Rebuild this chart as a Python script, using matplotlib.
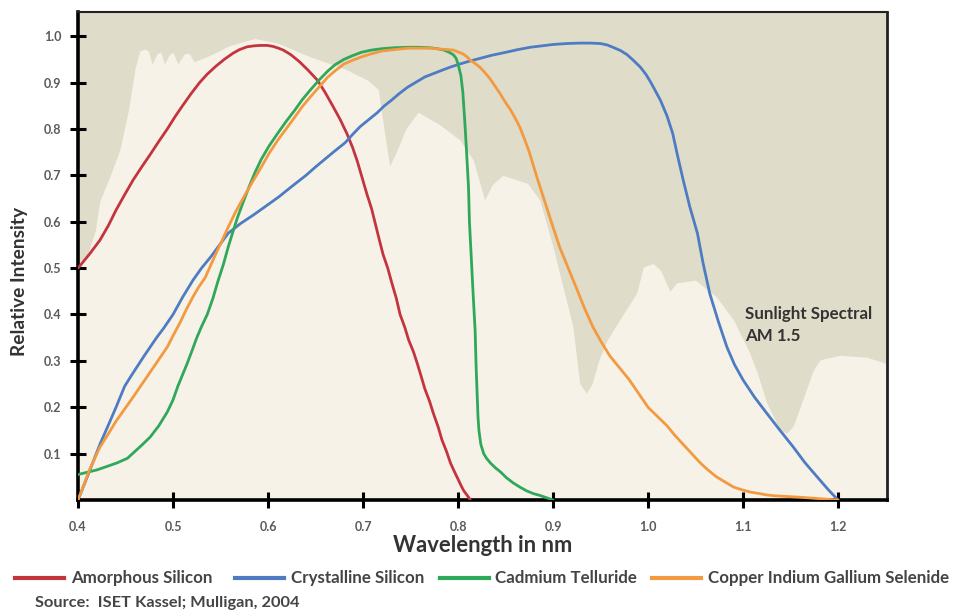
"""Spectral response of four solar-cell technologies against the AM 1.5 sunlight spectrum."""

import matplotlib

matplotlib.use("Agg")
import matplotlib.lines as mlines
import matplotlib.pyplot as plt

plt.rcParams["font.family"] = ["Lato", "DejaVu Sans"]

# Sunlight spectrum AM 1.5 (relative)
SUN_X = [0.400, 0.410, 0.418, 0.423, 0.434, 0.444, 0.453, 0.460, 0.465, 0.470, 0.474, 0.478,
         0.483, 0.487, 0.491, 0.496, 0.500, 0.505, 0.512, 0.517, 0.522, 0.535, 0.560, 0.586,
         0.610, 0.645, 0.680, 0.705, 0.716, 0.722, 0.728, 0.735, 0.745, 0.758, 0.780, 0.802,
         0.816, 0.828, 0.836, 0.847, 0.873, 0.886, 0.900, 0.921, 0.928, 0.935, 0.941, 0.948,
         0.957, 0.970, 0.988, 0.995, 1.005, 1.013, 1.023, 1.030, 1.050, 1.072, 1.090, 1.107,
         1.115, 1.125, 1.139, 1.146, 1.153, 1.160, 1.174, 1.181, 1.202, 1.230, 1.250]
SUN_Y = [0.51, 0.53, 0.58, 0.645, 0.70, 0.755, 0.84, 0.93, 0.968, 0.972, 0.968, 0.94,
         0.962, 0.966, 0.94, 0.96, 0.965, 0.94, 0.962, 0.963, 0.945, 0.955, 0.98, 0.995,
         0.985, 0.955, 0.93, 0.905, 0.885, 0.80, 0.72, 0.75, 0.80, 0.836, 0.81, 0.776,
         0.733, 0.647, 0.68, 0.70, 0.683, 0.647, 0.545, 0.373, 0.252, 0.23, 0.25, 0.30,
         0.345, 0.388, 0.446, 0.502, 0.51, 0.496, 0.45, 0.468, 0.474, 0.438, 0.388, 0.317,
         0.274, 0.209, 0.151, 0.144, 0.16, 0.20, 0.28, 0.302, 0.312, 0.308, 0.295]

# Amorphous silicon
ASI_X = [0.400, 0.412, 0.423, 0.432, 0.440, 0.449, 0.458, 0.467, 0.476, 0.485, 0.494, 0.502,
         0.510, 0.519, 0.528, 0.536, 0.545, 0.554, 0.563, 0.570, 0.578, 0.585, 0.592, 0.599,
         0.605, 0.611, 0.616, 0.624, 0.633, 0.642, 0.652, 0.660, 0.668, 0.676, 0.683, 0.689,
         0.694, 0.699, 0.704, 0.709, 0.713, 0.717, 0.721, 0.726, 0.730, 0.735, 0.739, 0.744,
         0.748, 0.753, 0.757, 0.761, 0.765, 0.770, 0.774, 0.779, 0.783, 0.788, 0.792, 0.796,
         0.800, 0.803, 0.806, 0.810, 0.813]
ASI_Y = [0.50, 0.53, 0.56, 0.592, 0.625, 0.658, 0.69, 0.718, 0.745, 0.773, 0.80, 0.826,
         0.85, 0.876, 0.90, 0.918, 0.935, 0.95, 0.963, 0.971, 0.977, 0.979, 0.98, 0.98,
         0.978, 0.974, 0.97, 0.96, 0.945, 0.927, 0.905, 0.879, 0.85, 0.82, 0.79, 0.76,
         0.73, 0.695, 0.66, 0.628, 0.595, 0.562, 0.53, 0.50, 0.47, 0.435, 0.40, 0.372,
         0.345, 0.32, 0.295, 0.268, 0.24, 0.213, 0.187, 0.158, 0.13, 0.104, 0.08, 0.062,
         0.045, 0.032, 0.02, 0.009, 0.0]

# Crystalline silicon
CSI_X = [0.400, 0.412, 0.423, 0.432, 0.440, 0.449, 0.456, 0.463, 0.470, 0.476, 0.483, 0.490,
         0.500, 0.510, 0.521, 0.530, 0.540, 0.549, 0.558, 0.571, 0.585, 0.598, 0.611, 0.625,
         0.640, 0.650, 0.660, 0.670, 0.681, 0.689, 0.697, 0.706, 0.715, 0.722, 0.730, 0.738,
         0.747, 0.756, 0.765, 0.775, 0.785, 0.793, 0.802, 0.812, 0.823, 0.836, 0.850, 0.863,
         0.876, 0.888, 0.900, 0.914, 0.928, 0.940, 0.950, 0.957, 0.963, 0.971, 0.978, 0.985,
         0.992, 0.998, 1.003, 1.008, 1.013, 1.020, 1.026, 1.031, 1.037, 1.044, 1.052, 1.058,
         1.065, 1.074, 1.083, 1.091, 1.100, 1.112, 1.125, 1.139, 1.153, 1.165, 1.178, 1.189,
         1.200]
CSI_Y = [0.0, 0.062, 0.12, 0.162, 0.20, 0.245, 0.268, 0.29, 0.312, 0.33, 0.351, 0.37,
         0.40, 0.437, 0.474, 0.50, 0.525, 0.55, 0.575, 0.596, 0.615, 0.634, 0.653, 0.676,
         0.70, 0.718, 0.735, 0.752, 0.77, 0.788, 0.805, 0.82, 0.835, 0.849, 0.862, 0.876,
         0.89, 0.901, 0.912, 0.92, 0.928, 0.934, 0.94, 0.946, 0.952, 0.959, 0.965, 0.971,
         0.976, 0.979, 0.982, 0.984, 0.985, 0.985, 0.984, 0.981, 0.976, 0.969, 0.96, 0.947,
         0.933, 0.917, 0.90, 0.881, 0.862, 0.828, 0.79, 0.743, 0.69, 0.632, 0.575, 0.51,
         0.445, 0.385, 0.33, 0.292, 0.259, 0.222, 0.187, 0.15, 0.114, 0.081, 0.05, 0.024,
         0.0]

# Cadmium telluride
CDTE_X = [0.400, 0.420, 0.441, 0.452, 0.460, 0.468, 0.476, 0.485, 0.494, 0.500, 0.505, 0.510,
          0.515, 0.520, 0.525, 0.530, 0.536, 0.542, 0.547, 0.553, 0.558, 0.563, 0.568, 0.574,
          0.580, 0.586, 0.593, 0.601, 0.610, 0.619, 0.628, 0.636, 0.645, 0.654, 0.663, 0.671,
          0.680, 0.689, 0.698, 0.709, 0.720, 0.733, 0.747, 0.758, 0.770, 0.778, 0.785, 0.790,
          0.795, 0.798, 0.800, 0.803, 0.805, 0.807, 0.809, 0.811, 0.812, 0.814, 0.816, 0.818,
          0.819, 0.820, 0.821, 0.822, 0.824, 0.827, 0.830, 0.834, 0.839, 0.845, 0.851, 0.858,
          0.865, 0.872, 0.879, 0.886, 0.893, 0.900]
CDTE_Y = [0.055, 0.065, 0.08, 0.09, 0.105, 0.12, 0.136, 0.16, 0.19, 0.216, 0.245, 0.27,
          0.295, 0.322, 0.35, 0.374, 0.40, 0.435, 0.47, 0.508, 0.545, 0.578, 0.61, 0.643,
          0.675, 0.705, 0.735, 0.763, 0.79, 0.816, 0.84, 0.863, 0.885, 0.906, 0.925, 0.939,
          0.95, 0.958, 0.965, 0.97, 0.973, 0.975, 0.976, 0.976, 0.975, 0.973, 0.97, 0.966,
          0.96, 0.952, 0.94, 0.915, 0.88, 0.82, 0.75, 0.675, 0.60, 0.52, 0.44, 0.365,
          0.29, 0.235, 0.18, 0.15, 0.12, 0.10, 0.09, 0.08, 0.07, 0.06, 0.048, 0.037,
          0.028, 0.02, 0.014, 0.01, 0.005, 0.0]

# Copper indium gallium selenide
CIGS_X = [0.400, 0.412, 0.423, 0.432, 0.440, 0.449, 0.458, 0.467, 0.476, 0.485, 0.494, 0.501,
          0.508, 0.514, 0.521, 0.527, 0.534, 0.540, 0.546, 0.552, 0.558, 0.566, 0.575, 0.584,
          0.593, 0.601, 0.610, 0.619, 0.628, 0.636, 0.645, 0.654, 0.663, 0.671, 0.680, 0.689,
          0.698, 0.709, 0.720, 0.733, 0.747, 0.758, 0.770, 0.782, 0.795, 0.800, 0.805, 0.809,
          0.813, 0.818, 0.823, 0.828, 0.833, 0.838, 0.844, 0.849, 0.855, 0.860, 0.865, 0.870,
          0.875, 0.879, 0.883, 0.889, 0.895, 0.901, 0.907, 0.916, 0.925, 0.933, 0.942, 0.951,
          0.960, 0.970, 0.980, 0.990, 1.000, 1.010, 1.020, 1.028, 1.037, 1.046, 1.055, 1.063,
          1.072, 1.081, 1.090, 1.099, 1.108, 1.117, 1.125, 1.134, 1.143, 1.160, 1.180, 1.200]
CIGS_Y = [0.0, 0.065, 0.114, 0.143, 0.17, 0.196, 0.222, 0.249, 0.276, 0.303, 0.33, 0.358,
          0.385, 0.411, 0.438, 0.459, 0.48, 0.508, 0.535, 0.561, 0.588, 0.622, 0.655, 0.687,
          0.718, 0.747, 0.775, 0.80, 0.825, 0.848, 0.87, 0.891, 0.912, 0.926, 0.94, 0.948,
          0.955, 0.962, 0.968, 0.971, 0.974, 0.974, 0.974, 0.972, 0.97, 0.966, 0.962, 0.956,
          0.948, 0.941, 0.933, 0.922, 0.91, 0.895, 0.877, 0.86, 0.842, 0.824, 0.804, 0.778,
          0.75, 0.723, 0.696, 0.658, 0.62, 0.582, 0.545, 0.50, 0.455, 0.414, 0.373, 0.34,
          0.31, 0.285, 0.26, 0.23, 0.20, 0.18, 0.16, 0.14, 0.12, 0.10, 0.08, 0.065,
          0.05, 0.039, 0.028, 0.022, 0.017, 0.014, 0.011, 0.009, 0.008, 0.006, 0.003, 0.0]

SERIES = [
    ("Amorphous Silicon", ASI_X, ASI_Y, "#c4343f"),
    ("Crystalline Silicon", CSI_X, CSI_Y, "#4d7cc3"),
    ("Cadmium Telluride", CDTE_X, CDTE_Y, "#2fa85a"),
    ("Copper Indium Gallium Selenide", CIGS_X, CIGS_Y, "#f39a40"),
]

X_TICKS = [0.4, 0.5, 0.6, 0.7, 0.8, 0.9, 1.0, 1.1, 1.2]
Y_TICKS = [0.1, 0.2, 0.3, 0.4, 0.5, 0.6, 0.7, 0.8, 0.9, 1.0]

BG_COLOR = "#e0dcca"
SUN_COLOR = "#f6f2e8"
TEXT_COLOR = "#333333"

# Legend entry start (figure fraction) for each series, left to right
LEGEND_X = [0.016, 0.245, 0.458, 0.679]
LEGEND_Y = 0.057

fig = plt.figure(figsize=(9.6, 6.13), dpi=100)
ax = fig.add_axes([0.0813, 0.1843, 0.8427, 0.7961])
ax.set_facecolor(BG_COLOR)

ax.fill_between(SUN_X, 0, SUN_Y, color=SUN_COLOR, linewidth=0, zorder=1)

for label, xs, ys, color in SERIES:
    ax.plot(xs, ys, color=color, linewidth=2.0, label=label, zorder=3,
            solid_capstyle="round", solid_joinstyle="round")

ax.set_xlim(0.4, 1.2516)
ax.set_ylim(0.0, 1.052)
ax.set_xticks(X_TICKS)
ax.set_xticklabels([f"{t:.1f}" for t in X_TICKS])
ax.set_yticks(Y_TICKS)
ax.set_yticklabels([f"{t:.1f}" for t in Y_TICKS])
ax.tick_params(direction="inout", length=11.5, width=2.2, color="black",
               labelsize=9, labelcolor="#5a5a5a")
ax.tick_params(axis="x", pad=9)
ax.tick_params(axis="y", pad=6)
for tick in ax.get_xticklabels() + ax.get_yticklabels():
    tick.set_fontweight("bold")

for side in ("left", "bottom"):
    ax.spines[side].set_linewidth(2.6)
    ax.spines[side].set_color("black")
ax.spines["right"].set_linewidth(2.0)
ax.spines["right"].set_color("#222222")
ax.spines["top"].set_linewidth(1.5)
ax.spines["top"].set_color("#222222")

ax.set_xlabel("Wavelength in nm", fontsize=15.8, fontweight="bold", color=TEXT_COLOR, labelpad=2)
ax.set_ylabel("Relative Intensity", fontsize=13.8, fontweight="bold", color=TEXT_COLOR)
ax.yaxis.set_label_coords(-0.062, 0.447)

ax.text(1.102, 0.378, "Sunlight Spectral\nAM 1.5", fontsize=12.2, fontweight="bold",
        color=TEXT_COLOR, va="center", ha="left", linespacing=1.45, zorder=4)

# Legend drawn by hand so that the entries sit where the reference has them
for x0, (label, _, _, color) in zip(LEGEND_X, SERIES):
    fig.add_artist(mlines.Line2D([x0, x0 + 0.051], [LEGEND_Y, LEGEND_Y], color=color,
                                 linewidth=3.0, transform=fig.transFigure))
    fig.text(x0 + 0.058, LEGEND_Y, label, fontsize=12.2, fontweight="bold", color="#444444",
             ha="left", va="center")

fig.text(0.036, 0.017, "Source:  ISET Kassel; Mulligan, 2004", fontsize=11.8,
         fontweight="bold", color="#444444", ha="left", va="center")

fig.savefig("out.png", dpi=100, facecolor="white")
